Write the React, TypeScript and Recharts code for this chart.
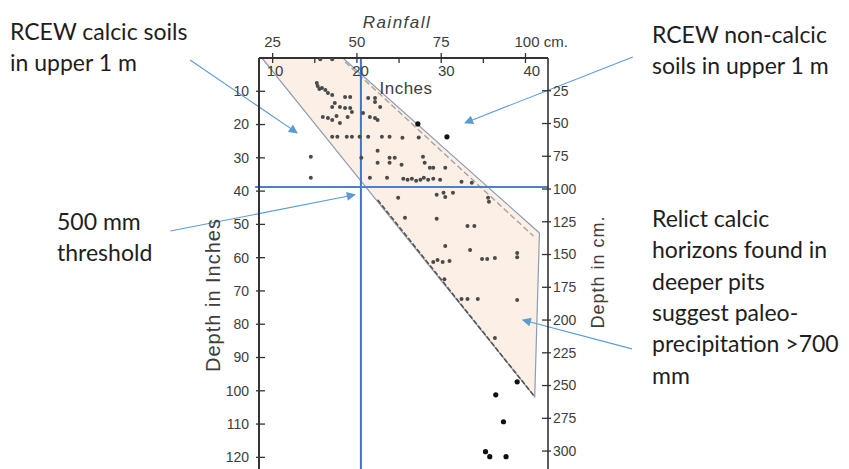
import React from 'react';
import {
  ComposedChart,
  XAxis,
  YAxis,
  Area,
  Line,
  Scatter,
  ReferenceLine,
  Label,
} from 'recharts';

const CM_PER_IN = 2.54;

// axes (rainfall and depth both in inches, cm scales are derived)
const rainDomainIn = [8.25, 42];
const depthDomainIn = [0, 123.5];
const rainCmTicks = [25, 37.5, 50, 62.5, 75, 87.5, 100];
const rainCmLabels: Record<number, string> = { 25: '25', 50: '50', 75: '75', 100: '100 cm.' };
const rainInTicks = [10, 20, 30, 40];
const depthInTicks = [10, 20, 30, 40, 50, 60, 70, 80, 90, 100, 110, 120];
const depthCmTicks = [25, 50, 75, 100, 125, 150, 175, 200, 225, 250, 275, 300];

// shaded calcic band: rainfall (in) vs top / bottom depth (in)
const bandRain = [8.6, 18.05, 40.45, 41.0];
const bandTop = [0, 0, 51.3, 52.6];
const bandBottom = [0, 30.2, 101.8, 52.6];

// dashed lines of the original figure
const upperDashed = [[18.3, 1.2], [40.3, 53.5]];
const lowerDashed = [[22.1, 42.6], [40.45, 101.8]];

// observed pits: [rainfall in, depth in]
const grayDots = [
  [15.4, 0.4], [16.8, 0.4],
  [15.0, 7.5], [15.1, 8.4], [15.3, 9.3], [15.6, 9.0], [16.0, 9.6], [16.3, 10.5], [16.8, 11.1],
  [18.3, 11.7], [18.9, 11.7],
  [17.1, 13.5], [16.8, 14.7], [17.7, 14.7], [18.3, 15.0], [18.9, 15.0], [19.1, 16.2],
  [15.7, 17.7], [16.3, 18.0], [16.8, 18.6], [17.7, 19.5], [18.6, 17.7], [17.3, 17.4],
  [20.4, 16.5], [21.0, 12.0], [21.8, 12.0], [21.8, 13.2], [22.4, 14.7], [21.2, 17.7], [21.8, 18.0], [22.1, 18.6],
  [16.8, 23.7], [17.4, 23.7], [18.5, 23.7], [19.1, 23.7], [20.0, 23.7], [21.0, 23.7], [22.6, 23.7], [23.5, 23.7],
  [25.0, 24.0], [26.9, 23.9],
  [14.3, 29.7], [14.3, 36.0],
  [20.2, 30.0], [22.1, 27.9], [22.1, 31.5], [23.5, 31.5], [23.5, 30.0], [24.1, 30.0], [24.9, 32.1],
  [27.4, 29.7], [27.6, 31.5], [28.2, 33.0], [28.6, 33.0], [30.0, 33.0],
  [21.2, 36.0], [23.2, 36.0], [25.1, 36.3], [25.6, 36.6], [26.1, 36.3], [26.6, 36.9], [27.1, 36.6],
  [27.5, 36.0], [28.0, 36.6], [28.6, 36.3], [29.4, 36.6], [31.9, 37.2], [33.1, 37.5],
  [24.5, 42.0], [29.0, 41.1], [29.8, 40.5], [30.0, 41.8], [30.9, 40.5], [35.0, 42.0], [35.1, 43.2],
  [25.3, 48.0], [29.0, 48.3], [32.6, 50.5], [33.4, 50.5],
  [30.0, 56.5], [32.9, 57.7], [38.4, 58.6], [38.4, 59.9],
  [28.6, 61.3], [29.1, 60.7], [29.7, 61.3], [30.5, 61.0], [34.3, 60.4], [34.9, 60.4], [35.8, 60.1],
  [29.9, 66.5],
  [31.9, 72.4], [32.6, 72.4], [33.8, 72.4], [38.4, 72.7],
  [35.8, 84.1],
];
const blackDots = [
  [26.8, 19.8], [30.2, 23.7], [38.4, 97.3], [35.9, 101.2], [36.8, 109.3],
  [34.7, 118.3], [35.2, 119.8], [37.1, 119.8],
];

// blue guide lines
const threshold500mmIn = 20.15;
const depth1mIn = 38.8;

// annotation arrows [from, to] in (rain in, depth in)
const arrows = [
  [[0.2, 0.6], [12.7, 22.5]],
  [[51.9, -0.3], [32.3, 19.5]],
  [[-2.1, 52.0], [19.45, 41.1]],
  [[51.8, 87.4], [39.05, 78.7]],
];

const notes = [
  { x: 10, y: 40, lines: ['RCEW calcic soils', 'in upper 1 m'] },
  { x: 57, y: 230, lines: ['500 mm', 'threshold'] },
  { x: 652, y: 43, lines: ['RCEW non-calcic', 'soils in upper 1 m'] },
  {
    x: 652,
    y: 227,
    lines: ['Relict calcic', 'horizons found in', 'deeper pits', 'suggest paleo-', 'precipitation >700', 'mm'],
  },
];

const bandData = bandRain.map((x, i) => ({ x, band: [bandTop[i], bandBottom[i]] }));
const toXY = (pts: number[][]) => pts.map(([x, y]) => ({ x, y }));
// top axis carries both the cm ticks (outside) and the inch labels (inside)
const topTicks = [...rainCmTicks.map((c) => c / CM_PER_IN), ...rainInTicks].sort((a, b) => a - b);

const AXIS = '#333';
const ARROW = '#5b9bd5';
const tickFont = {
  fontFamily: '"Liberation Sans", Arial, sans-serif',
  fontSize: 14,
  fill: '#3d3d3d',
};

const TopTick = ({ x, y, payload }: any) => {
  const v = payload.value;
  if (rainInTicks.includes(v)) {
    return (
      <text x={x + 1} y={y + 13} dy="0.35em" textAnchor="middle" {...tickFont} fontSize={15}>
        {v}
      </text>
    );
  }
  const cm = Math.round(v * CM_PER_IN * 2) / 2;
  const lbl = rainCmLabels[cm];
  return (
    <g>
      <line x1={x} x2={x} y1={lbl ? y - 5 : y} y2={y + 5} stroke={AXIS} strokeWidth={1.3} />
      {lbl && (
        <text x={cm === 100 ? x - 11 : x} y={y - 16} dy="0.35em" textAnchor={cm === 100 ? 'start' : 'middle'} {...tickFont} fontSize={15}>
          {lbl}
        </text>
      )}
    </g>
  );
};

const LeftTick = ({ x, y, payload }: any) => (
  <g>
    <line x1={x - 3} x2={x + 6} y1={y} y2={y} stroke={AXIS} strokeWidth={1.3} />
    <text x={x - 10} y={y} dy="0.35em" textAnchor="end" {...tickFont}>
      {payload.value}
    </text>
  </g>
);

const RightTick = ({ x, y, payload }: any) => (
  <g>
    <line x1={x - 6} x2={x + 3} y1={y} y2={y} stroke={AXIS} strokeWidth={1.3} />
    <text x={x + 5} y={y} dy="0.35em" textAnchor="start" {...tickFont}>
      {payload.value}
    </text>
  </g>
);

const dot = (r: number, fill: string) => (props: any) => (
  <circle cx={props.cx} cy={props.cy} r={r} fill={fill} />
);

export default function App() {
  return (
    <div style={{ position: 'absolute', left: 0, top: 0, width: 849, height: 469, background: '#fff' }}>
      <svg width={0} height={0} style={{ position: 'absolute' }}>
        <defs>
          <marker id="arrowHead" viewBox="0 0 10 10" refX={9} refY={5} markerWidth={11} markerHeight={9}
            markerUnits="userSpaceOnUse" orient="auto">
            <path d="M0,0 L10,5 L0,10 z" fill={ARROW} />
          </marker>
        </defs>
      </svg>
      <ComposedChart width={849} height={469} data={bandData} margin={{ top: 0, right: 0, bottom: 0, left: 0 }}>
        <XAxis
          xAxisId="in"
          orientation="top"
          type="number"
          dataKey="x"
          height={58}
          domain={rainDomainIn}
          allowDataOverflow
          ticks={topTicks}
          tickSize={0}
          tickMargin={0}
          tickLine={false}
          tick={<TopTick />}
          axisLine={{ stroke: AXIS, strokeWidth: 2 }}
          interval={0}
        >
          <Label
            content={({ viewBox }: any) => (
              <g>
                <text x={viewBox.x + 138} y={22} dy="0.35em" textAnchor="middle" {...tickFont}
                  fontSize={17} letterSpacing={1.5} fontStyle="italic">
                  Rainfall
                </text>
                <text x={viewBox.x + 147} y={88} dy="0.35em" textAnchor="middle" {...tickFont}
                  fontSize={17} letterSpacing={0.5}>
                  Inches
                </text>
              </g>
            )}
          />
        </XAxis>
        <YAxis
          yAxisId="in"
          orientation="left"
          type="number"
          dataKey="y"
          width={259}
          reversed
          domain={depthDomainIn}
          allowDataOverflow
          ticks={depthInTicks}
          tickSize={0}
          tickMargin={0}
          tickLine={false}
          tick={<LeftTick />}
          axisLine={{ stroke: AXIS, strokeWidth: 2 }}
          interval={0}
        >
          <Label
            content={({ viewBox }: any) => (
              <text
                transform={`translate(${viewBox.x + viewBox.width - 46},${viewBox.y + 237}) rotate(-90)`}
                textAnchor="middle"
                dy="0.35em"
                {...tickFont}
                fontSize={20}
                letterSpacing={1}
              >
                Depth in Inches
              </text>
            )}
          />
        </YAxis>
        <YAxis
          yAxisId="cm"
          orientation="right"
          type="number"
          width={301}
          reversed
          domain={[depthDomainIn[0] * CM_PER_IN, depthDomainIn[1] * CM_PER_IN]}
          allowDataOverflow
          ticks={depthCmTicks}
          tickSize={0}
          tickMargin={0}
          tickLine={false}
          tick={<RightTick />}
          axisLine={{ stroke: AXIS, strokeWidth: 1.6 }}
          interval={0}
        >
          <Label
            content={({ viewBox }: any) => (
              <text
                transform={`translate(${viewBox.x + 50},${viewBox.y + 214}) rotate(-90)`}
                textAnchor="middle"
                dy="0.35em"
                {...tickFont}
                fontSize={18}
                letterSpacing={1}
              >
                Depth in cm.
              </text>
            )}
          />
        </YAxis>

        <Area
          xAxisId="in"
          yAxisId="in"
          type="linear"
          dataKey="band"
          fill="#fcefe6"
          fillOpacity={1}
          stroke="#8d9cb3"
          strokeWidth={1.2}
          isAnimationActive={false}
          activeDot={false}
        />
        <Line
          xAxisId="in"
          yAxisId="in"
          data={toXY(upperDashed)}
          dataKey="y"
          type="linear"
          stroke="#a3a3a3"
          strokeWidth={1.4}
          strokeDasharray="6 3"
          dot={false}
          isAnimationActive={false}
        />
        <Line
          xAxisId="in"
          yAxisId="in"
          data={toXY(lowerDashed)}
          dataKey="y"
          type="linear"
          stroke="#555"
          strokeWidth={1.6}
          strokeDasharray="5 2"
          dot={false}
          isAnimationActive={false}
        />
        <Scatter
          xAxisId="in"
          yAxisId="in"
          data={toXY(grayDots)}
          shape={dot(2, '#4a4a4a')}
          isAnimationActive={false}
        />
        <Scatter
          xAxisId="in"
          yAxisId="in"
          data={toXY(blackDots)}
          shape={dot(2.6, '#111')}
          isAnimationActive={false}
        />

        <ReferenceLine xAxisId="in" yAxisId="in" x={threshold500mmIn} stroke="#4472c4" strokeWidth={2} />
        <ReferenceLine
          xAxisId="in"
          yAxisId="in"
          segment={[{ x: 7.8, y: depth1mIn }, { x: rainDomainIn[1], y: depth1mIn }]}
          stroke="#4f7fc4"
          strokeWidth={2}
          ifOverflow="visible"
        />
        {arrows.map(([from, to], i) => (
          <ReferenceLine
            key={i}
            xAxisId="in"
            yAxisId="in"
            segment={[{ x: from[0], y: from[1] }, { x: to[0], y: to[1] }]}
            stroke={ARROW}
            strokeWidth={1.1}
            markerEnd="url(#arrowHead)"
            ifOverflow="visible"
          />
        ))}
      </ComposedChart>
      <svg width={849} height={469} style={{ position: 'absolute', left: 0, top: 0, pointerEvents: 'none' }}>
        {notes.map((n, i) => (
          <text key={i} fontFamily="Lato, 'Open Sans', sans-serif" fontSize={23} fill="#1e1e1e">
            {n.lines.map((l, j) => (
              <tspan key={j} x={n.x} y={n.y + j * 31.3}>
                {l}
              </tspan>
            ))}
          </text>
        ))}
      </svg>
    </div>
  );
}
